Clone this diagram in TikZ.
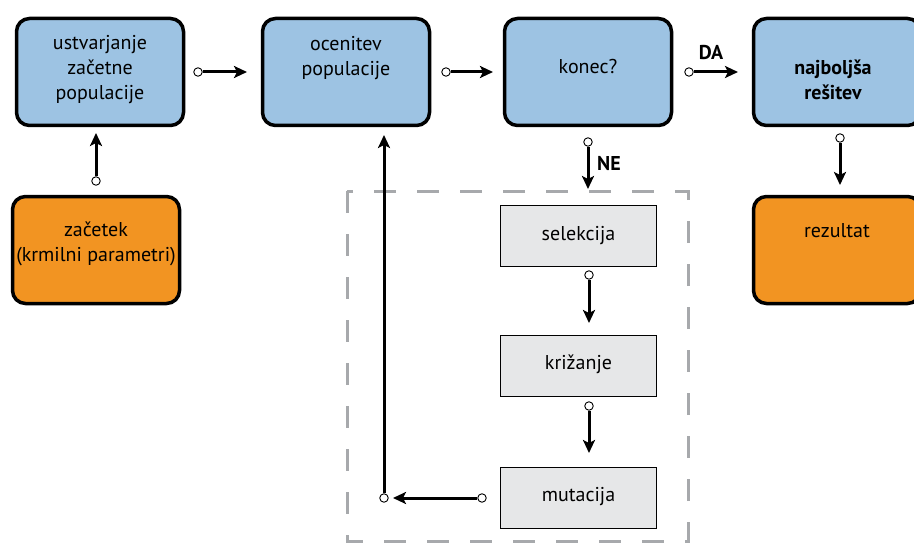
\documentclass[tikz,border=0pt]{standalone}
\usepackage{fontspec}
\setmainfont{PT Sans}
\usetikzlibrary{arrows.meta,calc}
\definecolor{boxblue}{HTML}{9DC3E3}
\definecolor{boxorange}{HTML}{F29422}
\definecolor{boxgray}{HTML}{E6E7E8}
\definecolor{dashgray}{HTML}{A7A9AC}
\tikzset{
  bigbox/.style={draw=black, line width=3.5pt, rounded corners=13pt, minimum width=167pt, minimum height=107pt, inner sep=0pt},
  bluebox/.style={bigbox, fill=boxblue},
  orangebox/.style={bigbox, fill=boxorange},
  graybox/.style={draw=black, line width=1.6pt, fill=boxgray, minimum width=156pt, minimum height=61pt, inner sep=0pt},
  txt/.style={align=center, inner sep=0pt, font=\fontsize{20}{25}\selectfont},
  btxt/.style={txt, font=\fontsize{20}{25}\selectfont\bfseries},
  dot/.style={circle, draw=black, line width=0.9pt, fill=white, minimum size=8.5pt, inner sep=0pt},
  conn/.style={line width=3pt, -{Stealth[length=13pt,width=12pt,inset=3pt]}},
}
\begin{document}
\begin{tikzpicture}[x=1pt,y=-1pt]
\useasboundingbox (0,0) rectangle (914,543);
\clip (0,0) rectangle (914,543);
% dashed group
\draw[dashgray, line width=3pt, dash pattern=on 22pt off 21pt] (347,191) rectangle (688,541);
% boxes
\node[bluebox] (b1) at (100,72) {};
\node[txt] (t1) at (100,70) {ustvarjanje\\začetne\\populacije};
\node[bluebox] (b2) at (346,72) {};
\node[txt] (t2) at (346,58) {ocenitev\\populacije};
\node[bluebox] (b3) at (588,72) {};
\node[txt] (t3) at (588,67) {konec?};
\node[bluebox] (b4) at (837,72) {};
\node[btxt] (t4) at (833,80) {najboljša\\rešitev};
\node[orangebox] (o1) at (96,250) {};
\node[txt] (t5) at (96,244) {začetek\\(krmilni parametri)};
\node[orangebox] (o2) at (837,250) {};
\node[txt] (t6) at (837,231) {rezultat};
\node[graybox] (g1) at (578.5,236) {};
\node[txt] (t7) at (578.5,236) {selekcija};
\node[graybox] (g2) at (578.5,366) {};
\node[txt] (t8) at (578.5,364) {križanje};
\node[graybox] (g3) at (578.5,498) {};
\node[txt] (t9) at (578.5,497) {mutacija};
% arrow end points
\coordinate (e1) at (247,72);
\coordinate (e2) at (493,72);
\coordinate (e3) at (738,72);
\coordinate (e4) at (96,133);
\coordinate (e5) at (588,189);
\coordinate (e6) at (840,185);
\coordinate (e7) at (589,323);
\coordinate (e8) at (589,453);
\coordinate (e9) at (393,498);
\coordinate (e10) at (384,135);
% start dots
\node[dot] (d1) at (198,72) {};
\node[dot] (d2) at (446,72) {};
\node[dot] (d3) at (689,72) {};
\node[dot] (d4) at (96,181) {};
\node[dot] (d5) at (588,142) {};
\node[dot] (d6) at (840,138) {};
\node[dot] (d7) at (589,275) {};
\node[dot] (d8) at (589,406) {};
\node[dot] (d9) at (482,498) {};
\node[dot] (d10) at (384,498) {};
% connectors
\draw[conn] (d1) -- (e1);
\draw[conn] (d2) -- (e2);
\draw[conn] (d3) -- (e3);
\draw[conn] (d4) -- (e4);
\draw[conn] (d5) -- (e5);
\draw[conn] (d6) -- (e6);
\draw[conn] (d7) -- (e7);
\draw[conn] (d8) -- (e8);
\draw[conn] (d9) -- (e9);
\draw[conn] (d10) -- (e10);
% labels
\node[btxt] (la) at (711,53) {DA};
\node[btxt] (ln) at (609,163) {NE};
\end{tikzpicture}
\end{document}
